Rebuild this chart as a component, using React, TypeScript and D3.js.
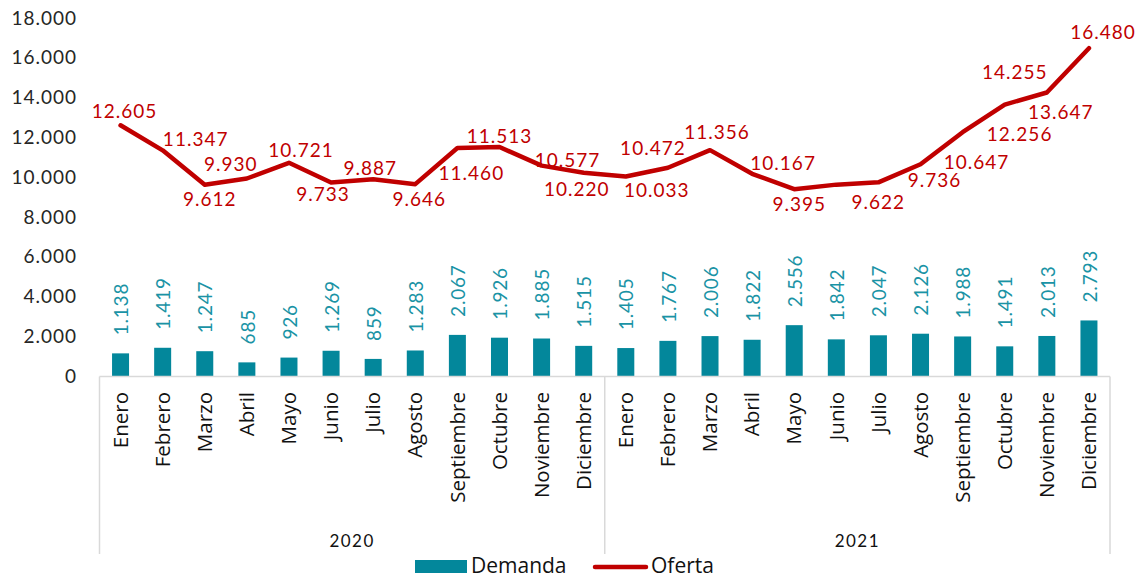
import React from "react";
import * as d3 from "d3";

const months = ["Enero","Febrero","Marzo","Abril","Mayo","Junio","Julio","Agosto","Septiembre","Octubre","Noviembre","Diciembre"];
const years = ["2020", "2021"];
const demanda2020 = [1138, 1419, 1247, 685, 926, 1269, 859, 1283, 2067, 1926, 1885, 1515];
const demanda2021 = [1405, 1767, 2006, 1822, 2556, 1842, 2047, 2126, 1988, 1491, 2013, 2793];
const oferta2020 = [12605, 11347, 9612, 9930, 10721, 9733, 9887, 9646, 11460, 11513, 10577, 10220];
const oferta2021 = [10033, 10472, 11356, 10167, 9395, 9622, 9736, 10647, 12256, 13647, 14255, 16480];
const yTicks = [0, 2000, 4000, 6000, 8000, 10000, 12000, 14000, 16000, 18000];

// label offsets (style): dx, dy relative to the line point
const ofertaLabelDx = [4, 33, 5, -16, 12, -8, -3, 4, 14, 0, 26, -7, 31, -15, 7, 31, 5, 42, 56, 56, 57, 56, -32, 14];
const ofertaLabelDy = [-14, -11, 15, -14, -12, 12, -11, 15, 25, -11, -5, 17, 14, -19, -18, -10, 15, 18, -2, -2, 2, 8, -20, -16];

const fmt = (v: number) => d3.format(",")(v).replace(/,/g, ".");

export default function App() {
  const W = 1142, H = 579;
  const cats = years.flatMap((y) => months.map((m) => `${m}-${y}`));
  const demanda = [...demanda2020, ...demanda2021];
  const oferta = [...oferta2020, ...oferta2021];

  const x = d3.scaleBand<string>().domain(cats).range([99.5, 1110]).paddingInner(0).paddingOuter(0);
  const y = d3.scaleLinear().domain([0, 18000]).range([376, 18]);
  const cx = (i: number) => (x(cats[i]) as number) + x.bandwidth() / 2;
  const barW = 17;

  const line = d3.line<number>().x((_, i) => cx(i)).y((d) => y(d));

  const numFont = "Lato, 'Open Sans', sans-serif";
  const txtFont = "'Open Sans', 'Noto Sans', sans-serif";
  const teal = "#03879B";
  const tealText = "#1A93A5";
  const red = "#C00000";
  const axisGray = "#D9D9D9";

  const yearMid = (k: number) => {
    const a = x(cats[k * 12]) as number;
    const b = (x(cats[k * 12 + 11]) as number) + x.bandwidth();
    return (a + b) / 2;
  };

  return (
    <svg width={W} height={H} style={{ position: "absolute", left: 0, top: 0, background: "#fff" }}>
      {/* y tick labels */}
      {yTicks.map((t) => (
        <text key={t} x={77} y={y(t)} dy="0.35em" textAnchor="end" fontFamily={numFont} fontSize={19} letterSpacing={1} fill="#262626">
          {fmt(t)}
        </text>
      ))}

      {/* bars */}
      {demanda.map((v, i) => (
        <rect key={i} x={cx(i) - barW / 2} y={y(v)} width={barW} height={y(0) - y(v)} fill={teal} />
      ))}

      {/* bar labels */}
      {demanda.map((v, i) => (
        <text
          key={i}
          transform={`translate(${cx(i) + 1},${y(v) - 18}) rotate(-90)`}
          dy="0.35em"
          textAnchor="start"
          fontFamily={numFont}
          fontSize={19}
          letterSpacing={0.8}
          fill={tealText}
        >
          {fmt(v)}
        </text>
      ))}

      {/* axis lines */}
      <line x1={99.5} x2={1110} y1={376.5} y2={376.5} stroke={axisGray} strokeWidth={1.5} />
      {[0, 12, 24].map((k) => {
        const xx = k < 24 ? (x(cats[k]) as number) : 1110;
        return <line key={k} x1={xx} x2={xx} y1={376.5} y2={554} stroke={axisGray} strokeWidth={1.5} />;
      })}

      {/* month labels */}
      {cats.map((c, i) => (
        <text
          key={c}
          transform={`translate(${cx(i)},392) rotate(-90)`}
          dy="0.35em"
          textAnchor="end"
          fontFamily={txtFont}
          fontSize={20.5}
          fill="#111"
        >
          {months[i % 12]}
        </text>
      ))}

      {/* year labels */}
      {years.map((yy, k) => (
        <text key={yy} x={yearMid(k)} y={547} textAnchor="middle" fontFamily={numFont} fontSize={17} letterSpacing={1.5} fill="#111">
          {yy}
        </text>
      ))}

      {/* line */}
      <path d={line(oferta) as string} fill="none" stroke={red} strokeWidth={4.5} strokeLinejoin="round" strokeLinecap="round" />

      {/* line labels */}
      {oferta.map((v, i) => (
        <text
          key={i}
          x={cx(i) + ofertaLabelDx[i]}
          y={y(v) + ofertaLabelDy[i]}
          dy="0.35em"
          textAnchor="middle"
          fontFamily={numFont}
          fontSize={19}
          letterSpacing={1}
          fill={red}
        >
          {fmt(v)}
        </text>
      ))}

      {/* legend */}
      <rect x={415} y={560} width={52} height={13} fill={teal} />
      <text x={471} y={573} fontFamily={txtFont} fontSize={21} fill="#111">Demanda</text>
      <line x1={595} x2={646} y1={567} y2={567} stroke={red} strokeWidth={4.5} strokeLinecap="round" />
      <text x={651} y={573} fontFamily={txtFont} fontSize={21} fill="#111">Oferta</text>
    </svg>
  );
}
